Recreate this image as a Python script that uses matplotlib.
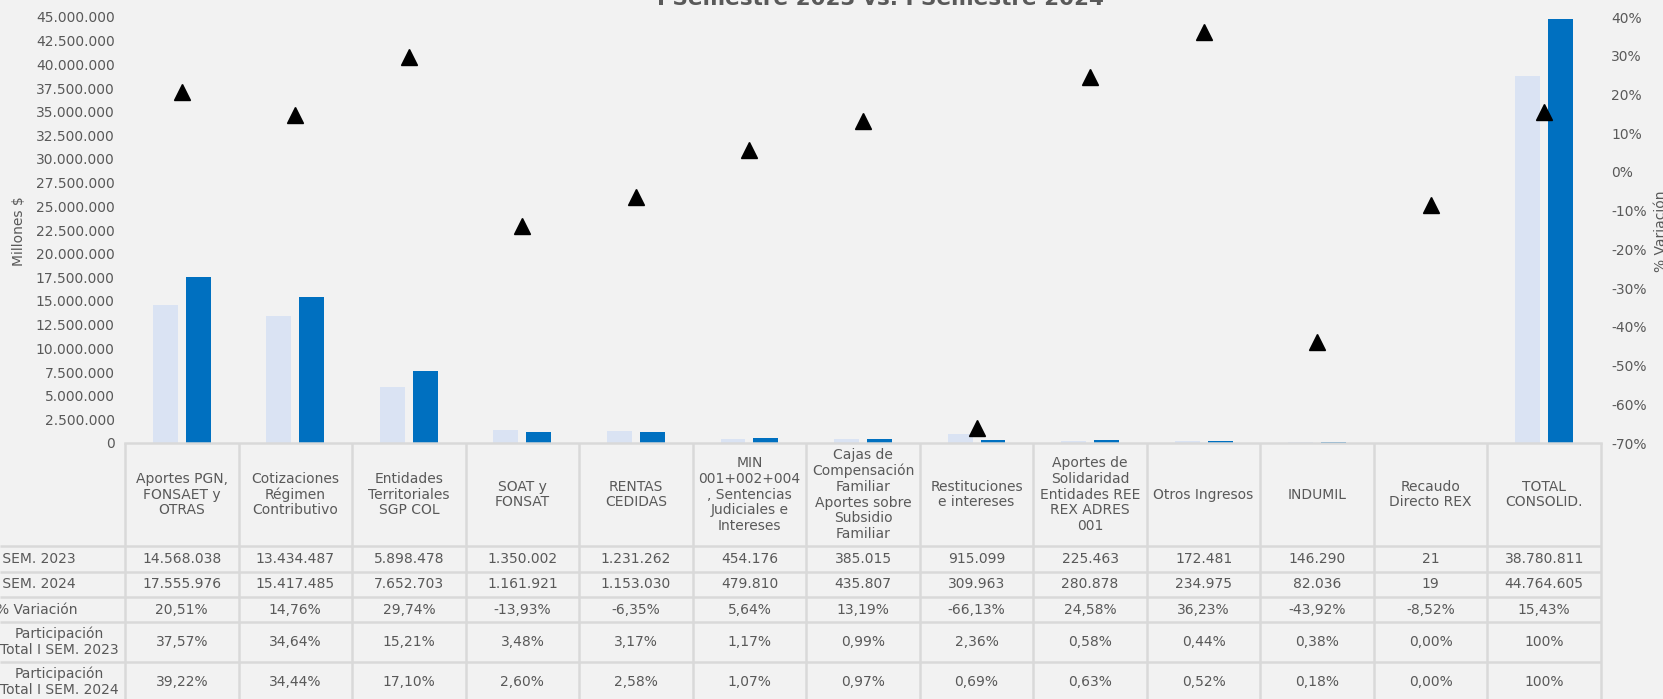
import numpy as np
import matplotlib.pyplot as plt
from matplotlib import transforms

# datos I semestre 2023 vs 2024 (millones $)
categorias = [
    "Aportes PGN,\nFONSAET y\nOTRAS",
    "Cotizaciones\nRégimen\nContributivo",
    "Entidades\nTerritoriales\nSGP COL",
    "SOAT y\nFONSAT",
    "RENTAS\nCEDIDAS",
    "MIN\n001+002+004\n, Sentencias\nJudiciales e\nIntereses",
    "Cajas de\nCompensación\nFamiliar\nAportes sobre\nSubsidio\nFamiliar",
    "Restituciones\ne intereses",
    "Aportes de\nSolidaridad\nEntidades REE\nREX ADRES\n001",
    "Otros Ingresos",
    "INDUMIL",
    "Recaudo\nDirecto REX",
    "TOTAL\nCONSOLID.",
]
sem_2023 = [14568038, 13434487, 5898478, 1350002, 1231262, 454176, 385015,
            915099, 225463, 172481, 146290, 21, 38780811]
sem_2024 = [17555976, 15417485, 7652703, 1161921, 1153030, 479810, 435807,
            309963, 280878, 234975, 82036, 19, 44764605]
variacion = [20.51, 14.76, 29.74, -13.93, -6.35, 5.64, 13.19, -66.13, 24.58,
             36.23, -43.92, -8.52, 15.43]
part_2023 = [37.57, 34.64, 15.21, 3.48, 3.17, 1.17, 0.99, 2.36, 0.58, 0.44,
             0.38, 0.00, 100]
part_2024 = [39.22, 34.44, 17.10, 2.60, 2.58, 1.07, 0.97, 0.69, 0.63, 0.52,
             0.18, 0.00, 100]
filas = ["I SEM. 2023", "I SEM. 2024", "% Variación",
         "Participación\nTotal I SEM. 2023", "Participación\nTotal I SEM. 2024"]

W, H = 1663, 699
FONDO = "#F2F2F2"
GRIS = "#595959"
LINEA = "#D9D9D9"
FS = 10


def miles(v):
    return "{:,}".format(int(v)).replace(",", ".")


def pct(v):
    if v == 100:
        return "100%"
    return "{:.2f}%".format(v).replace(".", ",")


fig = plt.figure(figsize=(W / 100, H / 100), dpi=100, facecolor=FONDO)

# grafico de barras
ax = fig.add_axes([125 / W, 1 - 443 / H, 1476 / W, 426 / H])
ax.set_facecolor(FONDO)
x = np.arange(len(categorias))
ax.bar(x - 0.145, sem_2023, width=0.22, color="#DAE3F3")
ax.bar(x + 0.145, sem_2024, width=0.22, color="#0070C0")
ax.set_xlim(-0.5, len(categorias) - 0.5)
ax.set_ylim(0, 45000000)
ax.set_yticks(np.arange(0, 45000001, 2500000))
ax.set_yticklabels([miles(v) for v in ax.get_yticks()])
ax.set_xticks([])
ax.tick_params(axis="y", length=0, pad=7.5, labelsize=FS, labelcolor=GRIS)
for s in ["top", "right", "left"]:
    ax.spines[s].set_visible(False)
ax.spines["bottom"].set_color(LINEA)
ax.spines["bottom"].set_linewidth(1.8)

ax2 = ax.twinx()
ax2.plot(x, np.array(variacion) / 100, "^", color="black", ms=11.5)
ax2.set_ylim(-0.7, 0.4)
ticks2 = np.arange(-7, 5) / 10
ax2.set_yticks(ticks2)
ax2.set_yticklabels(["{}%".format(int(round(t * 100))) for t in ticks2])
ax2.tick_params(axis="y", length=0, pad=7.5, labelsize=FS, labelcolor=GRIS)
for s in ax2.spines.values():
    s.set_visible(False)

fig.text(19 / W, 1 - 231 / H, "Millones $", rotation=90, ha="center",
         va="center", fontsize=FS, color=GRIS)
fig.text(1661 / W, 1 - 231 / H, "% Variación", rotation=90, ha="center",
         va="center", fontsize=FS, color=GRIS)
fig.text(880 / W, 1 - 5 / H, "I Semestre 2023 vs. I Semestre 2024",
         ha="center", va="baseline", fontsize=15.5, weight="bold", color=GRIS)

# tabla de datos
tab = fig.add_axes([125 / W, 1 - 702 / H, 1476 / W, 259 / H])
tab.set_xlim(-0.5, len(categorias) - 0.5)
tab.set_ylim(259, 0)
tab.axis("off")

bordes = [0, 103, 129, 154, 179, 219, 259]
x_izq = -0.5 - 125 / (1476 / len(categorias))
for yb in bordes[1:-1]:
    tab.plot([x_izq, len(categorias) - 0.5], [yb, yb], color=LINEA, lw=1.8,
             clip_on=False, solid_capstyle="butt")
for k in range(len(categorias) + 1):
    tab.plot([k - 0.5, k - 0.5], [0, 259], color=LINEA, lw=1.8,
             clip_on=False, solid_capstyle="butt")

valores = [
    [miles(v) for v in sem_2023],
    [miles(v) for v in sem_2024],
    [pct(v) for v in variacion],
    [pct(v) for v in part_2023],
    [pct(v) for v in part_2024],
]
for j, cat in enumerate(categorias):
    tab.text(j, (bordes[0] + bordes[1]) / 2, cat, ha="center", va="center",
             fontsize=FS, color=GRIS, linespacing=1.15)
    for i, fila in enumerate(valores):
        yc = (bordes[i + 1] + bordes[i + 2]) / 2
        tab.text(j, yc, fila[j], ha="center", va="center", fontsize=FS,
                 color=GRIS)

trans = transforms.blended_transform_factory(fig.transFigure, tab.transData)
pos_etiqueta = [76, 76, 78, 119, 119]
for i, (nombre, px) in enumerate(zip(filas, pos_etiqueta)):
    yc = (bordes[i + 1] + bordes[i + 2]) / 2
    tab.text(px / W, yc, nombre, transform=trans, ha="right", va="center",
             multialignment="center", fontsize=FS, color=GRIS,
             linespacing=1.15, clip_on=False)

fig.savefig("out.png", dpi=100, facecolor=FONDO)
